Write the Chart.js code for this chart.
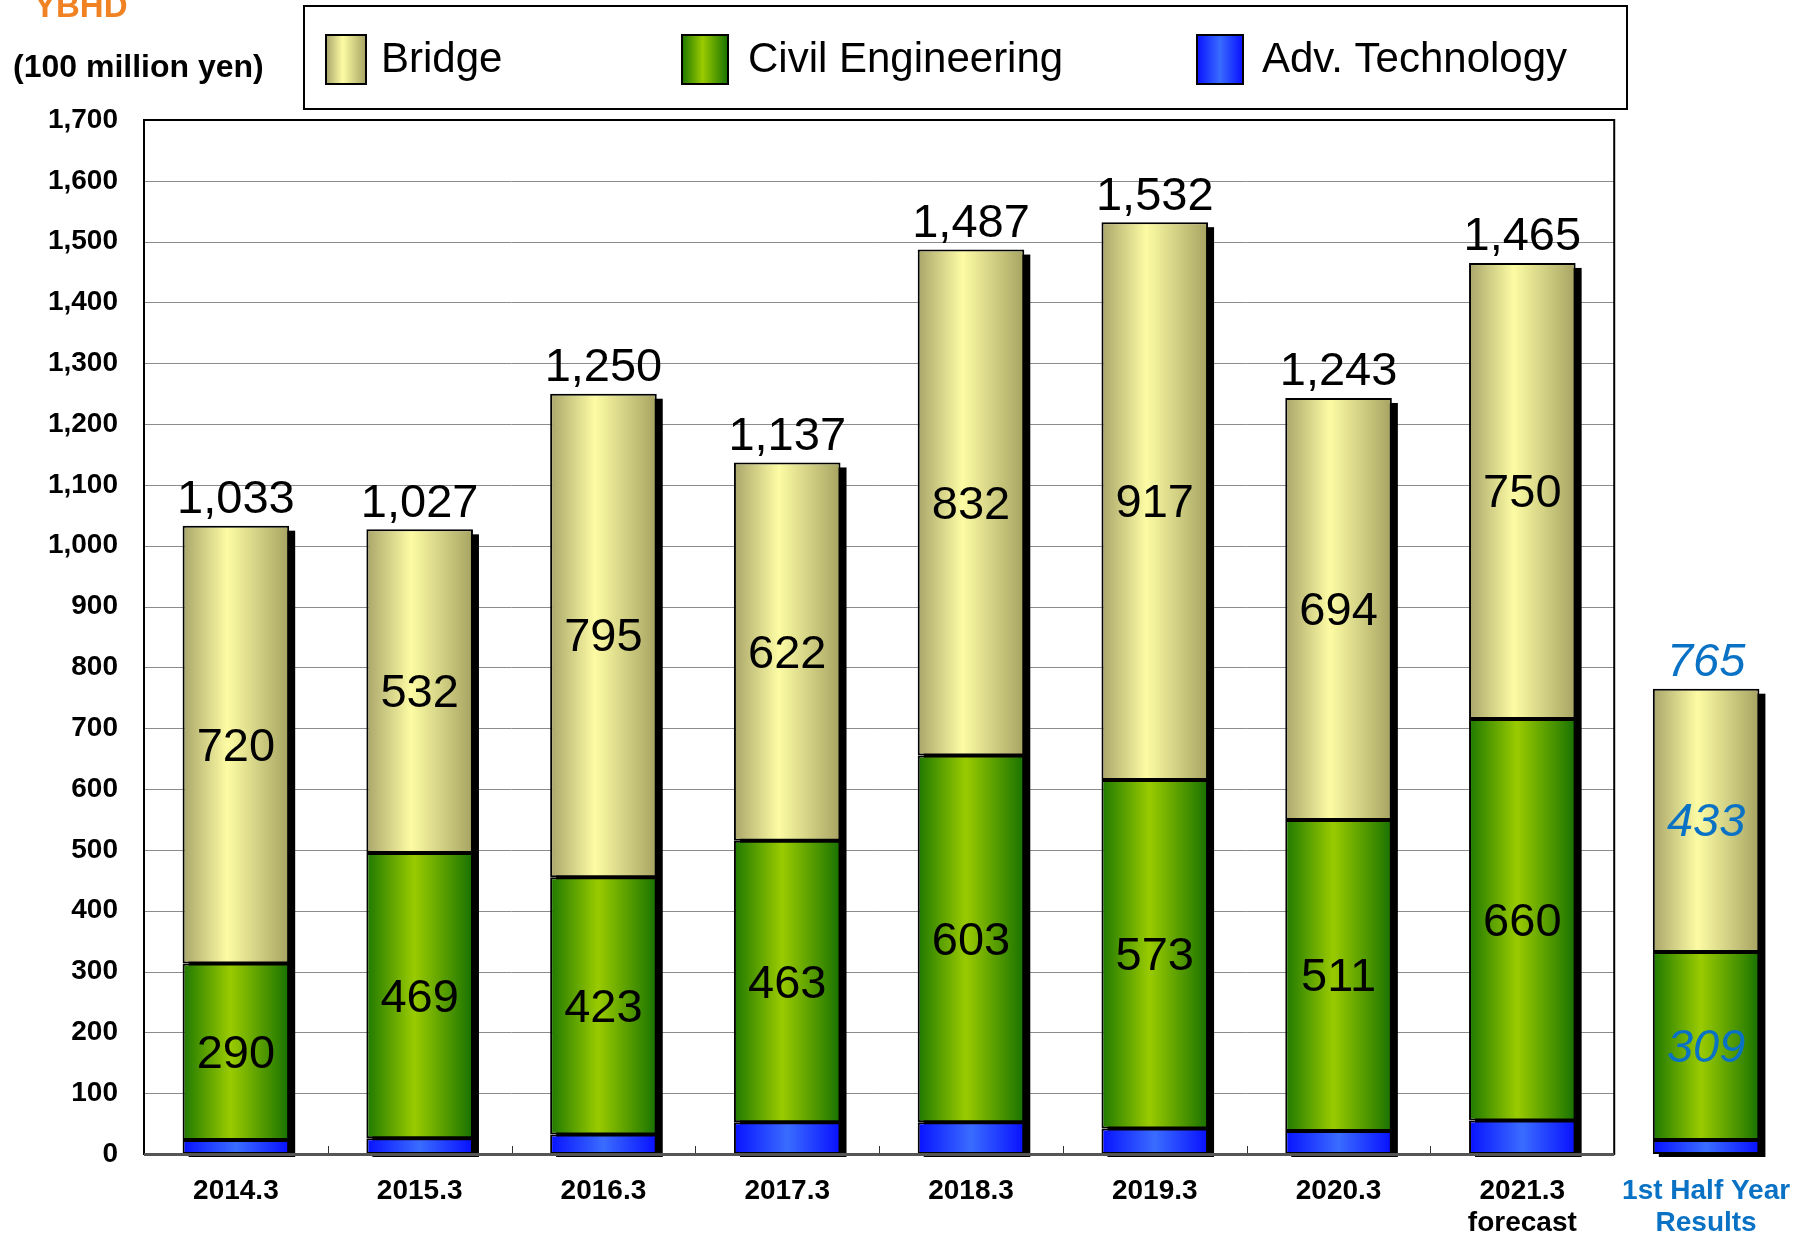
<!DOCTYPE html>
<html lang="en">
<head>
    <meta charset="UTF-8">
    <title>YBHD Orders by Segment</title>
    <script src="https://cdn.jsdelivr.net/npm/chart.js@4.4.0/dist/chart.umd.min.js"></script>
    <style>
        html, body {
            margin: 0;
            padding: 0;
            background: #fff;
        }
        .chart-container {
            position: relative;
            width: 1804px;
            height: 1244px;
        }
    </style>
</head>
<body>
    <div class="chart-container">
        <canvas id="ordersChart"></canvas>
    </div>

    <script>
        // fiscal years (last one is the 1st half results, drawn outside the frame)
        const categories = ['2014.3', '2015.3', '2016.3', '2017.3', '2018.3', '2019.3', '2020.3',
            ['2021.3', 'forecast'], ['1st Half Year', 'Results']];
        const bridge = [720, 532, 795, 622, 832, 917, 694, 750, 433];
        const civil = [290, 469, 423, 463, 603, 573, 511, 660, 309];
        const advTech = [23, 26, 32, 52, 52, 42, 38, 55, 23];
        const yTicks = { min: 0, max: 1700, step: 100 };
        const mainCount = 8; // bars inside the framed plot

        const font = '"Liberation Sans", Arial, sans-serif';
        const halfBlue = '#0a72c4';
        const barPct = 0.58;

        const gradients = {
            Bridge: [[0, '#a9a56a'], [0.42, '#fdfca4'], [1, '#a6a362']],
            'Civil Engineering': [[0, '#1e7800'], [0.45, '#9acb00'], [1, '#187200']],
            'Adv. Technology': [[0, '#0812ff'], [0.5, '#3a6cff'], [1, '#0810ff']]
        };

        function hGradient(ctx, x0, x1, stops) {
            const g = ctx.createLinearGradient(x0, 0, x1, 0);
            stops.forEach(([o, c]) => g.addColorStop(o, c));
            return g;
        }

        // scriptable fill: a horizontal gradient across each bar
        function barFill(label, fallback) {
            return c => {
                const chart = c.chart;
                const xs = chart.scales.x;
                if (!chart.chartArea || !xs || !xs.width) return fallback;
                const w = xs.width / categories.length * barPct;
                const x = xs.getPixelForValue(c.dataIndex);
                return hGradient(chart.ctx, x - w / 2, x + w / 2, gradients[label]);
            };
        }

        function frameRight(chart) {
            const xs = chart.scales.x;
            const step = xs.width / categories.length;
            return xs.getPixelForValue(mainCount - 1) + step / 2;
        }

        const decorPlugin = {
            id: 'decor',
            beforeDatasetsDraw(chart) {
                const { ctx, chartArea } = chart;
                const ys = chart.scales.y;
                const xs = chart.scales.x;
                const right = frameRight(chart);

                // horizontal grid, only inside the frame
                ctx.save();
                ctx.strokeStyle = '#8c8c8c';
                ctx.lineWidth = 1;
                ys.ticks.forEach(t => {
                    const y = Math.round(ys.getPixelForValue(t.value)) + 0.5;
                    ctx.beginPath();
                    ctx.moveTo(chartArea.left, y);
                    ctx.lineTo(right, y);
                    ctx.stroke();
                });

                // small tick marks between categories
                const step = xs.width / categories.length;
                ctx.strokeStyle = '#333';
                for (let i = 1; i < mainCount; i++) {
                    const x = Math.round(xs.getPixelForValue(i) - step / 2) + 0.5;
                    ctx.beginPath();
                    ctx.moveTo(x, chartArea.bottom);
                    ctx.lineTo(x, chartArea.bottom - 8);
                    ctx.stroke();
                }

                // drop shadow behind each stack
                const metas = chart.getSortedVisibleDatasetMetas();
                const topMeta = metas[metas.length - 1];
                const baseMeta = metas[0];
                ctx.fillStyle = '#000';
                topMeta.data.forEach((el, i) => {
                    const base = baseMeta.data[i].base;
                    ctx.fillRect(el.x - el.width / 2 + 6, el.y + 5, el.width, base - el.y - 2);
                });
                ctx.restore();
            },
            afterDatasetsDraw(chart) {
                const { ctx, chartArea } = chart;
                const right = frameRight(chart);
                const metas = chart.getSortedVisibleDatasetMetas();

                // plot frame
                ctx.save();
                ctx.strokeStyle = '#000';
                ctx.lineWidth = 2;
                ctx.strokeRect(chartArea.left, chartArea.top, right - chartArea.left, chartArea.bottom - chartArea.top);
                ctx.strokeStyle = '#555';
                ctx.lineWidth = 3;
                ctx.beginPath();
                ctx.moveTo(chartArea.left, chartArea.bottom + 0.5);
                ctx.lineTo(right, chartArea.bottom + 0.5);
                ctx.stroke();

                // segment values (Bridge, Civil)
                ctx.textAlign = 'center';
                ctx.textBaseline = 'middle';
                metas.forEach(meta => {
                    const ds = chart.data.datasets[meta.index];
                    if (ds.label === 'Adv. Technology') return;
                    meta.data.forEach((el, i) => {
                        const half = i === categories.length - 1;
                        ctx.font = (half ? 'italic ' : '') + '47px ' + font;
                        ctx.fillStyle = half ? halfBlue : '#000';
                        ctx.fillText(ds.data[i], el.x, (el.y + el.base) / 2 + 3);
                    });
                });

                // totals above the stacks
                const topMeta = metas[metas.length - 1];
                ctx.textBaseline = 'bottom';
                topMeta.data.forEach((el, i) => {
                    const half = i === categories.length - 1;
                    const total = bridge[i] + civil[i] + advTech[i];
                    ctx.font = (half ? 'italic ' : '') + '47px ' + font;
                    ctx.fillStyle = half ? halfBlue : '#000';
                    ctx.fillText(total.toLocaleString('en-US'), el.x, el.y - 2);
                });
                ctx.restore();
            },
            afterDraw(chart) {
                const { ctx } = chart;
                ctx.save();
                // company tag and unit
                ctx.fillStyle = '#f08224';
                ctx.font = 'bold 33px ' + font;
                ctx.textBaseline = 'alphabetic';
                ctx.fillText('YBHD', 34, 17);
                ctx.fillStyle = '#000';
                ctx.font = 'bold 32px ' + font;
                ctx.textBaseline = 'middle';
                ctx.fillText('(100 million yen)', 13, 68);

                // legend box
                ctx.strokeStyle = '#000';
                ctx.lineWidth = 2;
                ctx.strokeRect(304, 6, 1323, 103);
                const boxX = [326, 682, 1197];
                const textX = [381, 748, 1262];
                const order = ['Bridge', 'Civil Engineering', 'Adv. Technology'];
                order.forEach((label, k) => {
                    const x = boxX[k];
                    const w = k === 0 ? 40 : 46;
                    ctx.fillStyle = hGradient(ctx, x, x + w, gradients[label]);
                    ctx.fillRect(x, 35, w, 49);
                    ctx.lineWidth = 2;
                    ctx.strokeRect(x, 35, w, 49);
                    ctx.fillStyle = '#000';
                    ctx.font = '42px ' + font;
                    ctx.textAlign = 'left';
                    ctx.fillText(label, textX[k], 60);
                });
                ctx.restore();
            }
        };

        const ctx = document.getElementById('ordersChart').getContext('2d');
        const chart = new Chart(ctx, {
            type: 'bar',
            data: {
                labels: categories,
                datasets: [
                    { label: 'Adv. Technology', data: advTech, backgroundColor: barFill('Adv. Technology', '#2b5cff') },
                    { label: 'Civil Engineering', data: civil, backgroundColor: barFill('Civil Engineering', '#7fb800') },
                    { label: 'Bridge', data: bridge, backgroundColor: barFill('Bridge', '#eeee99') }
                ].map(d => Object.assign(d, {
                    borderColor: '#000',
                    borderWidth: 2,
                    borderSkipped: false,
                    categoryPercentage: 1,
                    barPercentage: barPct
                }))
            },
            options: {
                responsive: true,
                maintainAspectRatio: false,
                animation: false,
                devicePixelRatio: 1,
                layout: { padding: { top: 120, right: 6, bottom: 0, left: 0 } },
                plugins: {
                    legend: { display: false },
                    tooltip: { enabled: false }
                },
                scales: {
                    x: {
                        stacked: true,
                        grid: { display: false, drawTicks: false },
                        border: { display: false },
                        ticks: {
                            autoSkip: false,
                            maxRotation: 0,
                            padding: 21,
                            color: c => c.index === categories.length - 1 ? halfBlue : '#000',
                            font: { family: font, size: 28, weight: 'bold', lineHeight: 1.15 }
                        },
                        afterFit(scale) {
                            scale.height = 90;
                            // the last label may hang past the edge; the layout padding handles it
                            scale.paddingLeft = 0;
                            scale.paddingRight = 0;
                        }
                    },
                    y: {
                        stacked: true,
                        min: yTicks.min,
                        max: yTicks.max,
                        grid: { display: false, drawTicks: false },
                        border: { display: false },
                        ticks: {
                            stepSize: yTicks.step,
                            padding: 26,
                            color: '#000',
                            font: { family: font, size: 28, weight: 'bold' },
                            callback: v => v.toLocaleString('en-US')
                        },
                        afterFit(scale) { scale.width = 144; }
                    }
                }
            },
            plugins: [decorPlugin]
        });
    </script>
</body>
</html>
